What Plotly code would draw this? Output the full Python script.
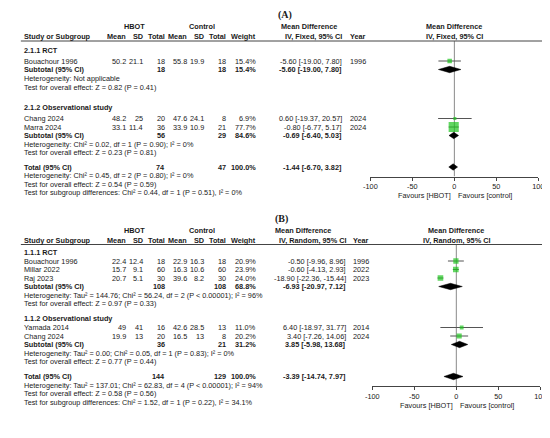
import plotly.graph_objects as go

# ---- panel A data (HBOT vs control, fixed effect) ----
groups_a = ["2.1.1 RCT", "2.1.2 Observational study"]
studies_a = ["Bouachour 1996", "Chang 2024", "Marra 2024"]
hbot_mean_a = [50.2, 48.2, 33.1]
hbot_sd_a = [21.1, 25, 11.4]
hbot_n_a = [18, 20, 36]
ctrl_mean_a = [55.8, 47.6, 33.9]
ctrl_sd_a = [19.9, 24.1, 10.9]
ctrl_n_a = [18, 8, 21]
weight_a = [15.4, 6.9, 77.7]
md_a = [-5.60, 0.60, -0.80]
lo_a = [-19.00, -19.37, -6.77]
hi_a = [7.80, 20.57, 5.17]
year_a = [1996, 2024, 2024]
sub_hbot_n_a = [18, 56]
sub_ctrl_n_a = [18, 29]
sub_weight_a = [15.4, 84.6]
sub_md_a = [-5.60, -0.69]
sub_lo_a = [-19.00, -6.40]
sub_hi_a = [7.80, 5.03]
sub_het_a = ["Heterogeneity: Not applicable",
             "Heterogeneity: Chi² = 0.02, df = 1 (P = 0.90); I² = 0%"]
sub_test_a = ["Test for overall effect: Z = 0.82 (P = 0.41)",
              "Test for overall effect: Z = 0.23 (P = 0.81)"]
tot_a = [74, 47, 100.0, -1.44, -6.70, 3.82]
tot_text_a = ["Heterogeneity: Chi² = 0.45, df = 2 (P = 0.80); I² = 0%",
              "Test for overall effect: Z = 0.54 (P = 0.59)",
              "Test for subgroup differences: Chi² = 0.44, df = 1 (P = 0.51), I² = 0%"]

# ---- panel B data (random effects) ----
groups_b = ["1.1.1 RCT", "1.1.2 Observational study"]
studies_b = ["Bouachour 1996", "Millar 2022", "Raj 2023", "Yamada 2014", "Chang 2024"]
hbot_mean_b = [22.4, 15.7, 20.7, 49, 19.9]
hbot_sd_b = [12.4, 9.1, 5.1, 41, 13]
hbot_n_b = [18, 60, 30, 16, 20]
ctrl_mean_b = [22.9, 16.3, 39.6, 42.6, 16.5]
ctrl_sd_b = [16.3, 10.6, 8.2, 28.5, 13]
ctrl_n_b = [18, 60, 30, 13, 8]
weight_b = [20.9, 23.9, 24.0, 11.0, 20.2]
md_b = [-0.50, -0.60, -18.90, 6.40, 3.40]
lo_b = [-9.96, -4.13, -22.36, -18.97, -7.26]
hi_b = [8.96, 2.93, -15.44, 31.77, 14.06]
year_b = [1996, 2022, 2023, 2014, 2024]
sub_hbot_n_b = [108, 36]
sub_ctrl_n_b = [108, 21]
sub_weight_b = [68.8, 31.2]
sub_md_b = [-6.93, 3.85]
sub_lo_b = [-20.97, -5.98]
sub_hi_b = [7.12, 13.68]
sub_het_b = ["Heterogeneity: Tau² = 144.76; Chi² = 56.24, df = 2 (P < 0.00001); I² = 96%",
             "Heterogeneity: Tau² = 0.00; Chi² = 0.05, df = 1 (P = 0.83); I² = 0%"]
sub_test_b = ["Test for overall effect: Z = 0.97 (P = 0.33)",
              "Test for overall effect: Z = 0.77 (P = 0.44)"]
tot_b = [144, 129, 100.0, -3.39, -14.74, 7.97]
tot_text_b = ["Heterogeneity: Tau² = 137.01; Chi² = 62.83, df = 4 (P < 0.00001); I² = 94%",
              "Test for overall effect: Z = 0.58 (P = 0.56)",
              "Test for subgroup differences: Chi² = 1.52, df = 1 (P = 0.22), I² = 34.1%"]

tick_vals = [-100, -50, 0, 50, 100]
tick_text = ["-100", "-50", "0", "50", "100"]

FONT = "Liberation Sans"
INK = "#1a1a1a"
FS = 7.3
GREEN = "#1fc41f"
W, H = 550, 438

fig = go.Figure()
ann = []
shapes = []


def txt(x, y, s, anchor="left", bold=False, size=FS, family=FONT, xref="x"):
    if bold:
        s = "<b>" + s + "</b>"
    ann.append(dict(x=x, y=y, xref=xref, yref="y", text=s, showarrow=False,
                    xanchor=anchor, yanchor="middle", borderpad=0,
                    font=dict(family=family, size=size, color=INK)))


def ci_str(m, l, h):
    return f"{m:.2f} [{l:.2f}, {h:.2f}]"


def panel(p, c, r, d, xa, ya):
    # column headers
    txt(c["letter"], r["letter"], "<b>(" + p["letter"] + ")</b>", anchor="center",
        size=10, family="Liberation Serif")
    txt(c["hbot"], r["top"], "HBOT", "center", True)
    txt(c["ctrl"], r["top"], "Control", "center", True)
    txt(c["mdhead"], r["top"], "Mean Difference", "left", True)
    txt(0, r["top"], "Mean Difference", "center", True, xref=xa)
    txt(c["study"], r["head"], "Study or Subgroup", "left", True)
    for key, lab in [("m1", "Mean"), ("s1", "SD"), ("n1", "Total"), ("m2", "Mean"),
                     ("s2", "SD"), ("n2", "Total"), ("w", "Weight")]:
        txt(c[key], r["head"], lab, "right", True)
    txt(c["ci"], r["head"], p["method"], "right", True)
    txt(c["yr"], r["head"], "Year", "left", True)
    txt(0, r["head"], p["method"], "center", True, xref=xa)
    shapes.append(dict(type="line", xref="x", yref="y", x0=6, x1=W, y0=r["line"], y1=r["line"],
                       line=dict(color="#444444", width=1)))

    # studies
    sy = r["studies"]
    for i, name in enumerate(d["studies"]):
        y = sy[i]
        txt(c["study"], y, name)
        txt(c["m1"], y, f"{d['hm'][i]:g}", "right")
        txt(c["s1"], y, f"{d['hs'][i]:g}", "right")
        txt(c["n1"], y, f"{d['hn'][i]}", "right")
        txt(c["m2"], y, f"{d['cm'][i]:g}", "right")
        txt(c["s2"], y, f"{d['cs'][i]:g}", "right")
        txt(c["n2"], y, f"{d['cn'][i]}", "right")
        txt(c["w"], y, f"{d['w'][i]:.1f}%", "right")
        txt(c["ci"], y, ci_str(d["md"][i], d["lo"][i], d["hi"][i]), "right")
        txt(c["yr"], y, f"{d['yr'][i]}", "left")

    # subgroups
    for g, gname in enumerate(d["groups"]):
        txt(c["study"], r["groups"][g], gname, "left", True)
        y = r["subtotal"][g]
        txt(c["study"], y, "Subtotal (95% CI)", "left", True)
        txt(c["n1"], y, f"{d['sub_hn'][g]}", "right", True)
        txt(c["n2"], y, f"{d['sub_cn'][g]}", "right", True)
        txt(c["w"], y, f"{d['sub_w'][g]:.1f}%", "right", True)
        txt(c["ci"], y, ci_str(d["sub_md"][g], d["sub_lo"][g], d["sub_hi"][g]), "right", True)
        txt(c["study"], r["het"][g], d["sub_het"][g])
        txt(c["study"], r["test"][g], d["sub_test"][g])

    # total
    t = d["tot"]
    y = r["total"]
    txt(c["study"], y, "Total (95% CI)", "left", True)
    txt(c["n1"], y, f"{t[0]}", "right", True)
    txt(c["n2"], y, f"{t[1]}", "right", True)
    txt(c["w"], y, f"{t[2]:.1f}%", "right", True)
    txt(c["ci"], y, ci_str(t[3], t[4], t[5]), "right", True)
    for k, line in enumerate(d["tot_text"]):
        txt(c["study"], r["tot_lines"][k], line)

    # forest: zero line, CIs, squares, diamonds
    shapes.append(dict(type="line", xref=xa, yref=ya, x0=0, x1=0, y0=r["line"], y1=r["axis"],
                       line=dict(color="#8a8a8a", width=1), layer="below"))
    cx, cy = [], []
    for i in range(len(d["md"])):
        cx += [d["lo"][i], d["hi"][i], None]
        cy += [sy[i], sy[i], None]
    fig.add_trace(go.Scatter(x=cx, y=cy, mode="lines", xaxis=xa, yaxis=ya,
                             line=dict(color="#555555", width=1), hoverinfo="skip"))
    fig.add_trace(go.Scatter(x=d["md"], y=sy, mode="markers", xaxis=xa, yaxis=ya,
                             marker=dict(symbol="square", color=GREEN,
                                         size=[1.15 * w ** 0.5 for w in d["w"]],
                                         line=dict(width=0))))
    dm = d["sub_md"] + [t[3]]
    dl = d["sub_lo"] + [t[4]]
    dh = d["sub_hi"] + [t[5]]
    dy = r["subtotal"] + [r["total"]]
    hh = 3.2
    px, py = [], []
    for i in range(len(dm)):
        px += [dl[i], dm[i], dh[i], dm[i], dl[i], None]
        py += [dy[i], dy[i] - hh, dy[i], dy[i] + hh, dy[i], None]
    fig.add_trace(go.Scatter(x=px, y=py, mode="lines", fill="toself", fillcolor="black",
                             xaxis=xa, yaxis=ya, line=dict(color="black", width=0.5),
                             hoverinfo="skip"))
    txt(-3, r["fav"], "Favours [HBOT]", "right", xref=xa)
    txt(3, r["fav"], "Favours [control]", "left", xref=xa)


cols_a = dict(letter=277, hbot=122, ctrl=192, mdhead=271, study=8, m1=115, s1=132.5, n1=155,
              m2=177, s2=194.5, n2=217, w=248, ci=336, yr=342)
cols_b = dict(cols_a, letter=273, mdhead=265, ci=340, yr=345)

rows_a = dict(letter=7, top=18.5, head=28.5, line=33, groups=[42.5, 99.5],
              studies=[53, 110.5, 119], subtotal=[61.5, 127.5], het=[70.5, 136],
              test=[79.5, 144.5], total=159, tot_lines=[167.5, 176, 184.5], axis=168.5, fav=187)
rows_b = dict(letter=211, top=222, head=232, line=236.5, groups=[244.5, 310.5],
              studies=[253, 261.5, 270, 319.5, 328], subtotal=[278.5, 336.5], het=[287, 345],
              test=[295.5, 353.5], total=368.5, tot_lines=[377, 385.5, 394], axis=378, fav=397.5)

data_a = dict(groups=groups_a, studies=studies_a, hm=hbot_mean_a, hs=hbot_sd_a, hn=hbot_n_a,
              cm=ctrl_mean_a, cs=ctrl_sd_a, cn=ctrl_n_a, w=weight_a, md=md_a, lo=lo_a,
              hi=hi_a, yr=year_a, sub_hn=sub_hbot_n_a, sub_cn=sub_ctrl_n_a, sub_w=sub_weight_a,
              sub_md=sub_md_a, sub_lo=sub_lo_a, sub_hi=sub_hi_a, sub_het=sub_het_a,
              sub_test=sub_test_a, tot=tot_a, tot_text=tot_text_a)
data_b = dict(groups=groups_b, studies=studies_b, hm=hbot_mean_b, hs=hbot_sd_b, hn=hbot_n_b,
              cm=ctrl_mean_b, cs=ctrl_sd_b, cn=ctrl_n_b, w=weight_b, md=md_b, lo=lo_b,
              hi=hi_b, yr=year_b, sub_hn=sub_hbot_n_b, sub_cn=sub_ctrl_n_b, sub_w=sub_weight_b,
              sub_md=sub_md_b, sub_lo=sub_lo_b, sub_hi=sub_hi_b, sub_het=sub_het_b,
              sub_test=sub_test_b, tot=tot_b, tot_text=tot_text_b)

panel(dict(letter="A", method="IV, Fixed, 95% CI"), cols_a, rows_a, data_a, "x2", "y2")
panel(dict(letter="B", method="IV, Random, 95% CI"), cols_b, rows_b, data_b, "x3", "y3")

forest_x = dict(range=[-100, 100], tickvals=tick_vals, ticktext=tick_text, showline=True,
                linecolor="#444444", linewidth=1, ticks="outside", ticklen=3, tickwidth=1,
                tickcolor="#444444", showgrid=False, zeroline=False, fixedrange=True,
                tickfont=dict(family=FONT, size=FS, color=INK))
hidden = dict(visible=False, fixedrange=True, showgrid=False, zeroline=False)

fig.update_layout(
    width=W, height=H, autosize=False, showlegend=False,
    margin=dict(l=0, r=0, t=0, b=0),
    paper_bgcolor="white", plot_bgcolor="rgba(0,0,0,0)",
    xaxis=dict(hidden, range=[0, W], domain=[0, 1]),
    yaxis=dict(hidden, range=[H, 0], domain=[0, 1]),
    xaxis2=dict(forest_x, domain=[364 / W, 536 / W], anchor="y2"),
    yaxis2=dict(hidden, domain=[1 - rows_a["axis"] / H, 1 - rows_a["line"] / H],
                range=[rows_a["axis"], rows_a["line"]], anchor="x2"),
    xaxis3=dict(forest_x, domain=[366 / W, 538 / W], anchor="y3"),
    yaxis3=dict(hidden, domain=[1 - rows_b["axis"] / H, 1 - rows_b["line"] / H],
                range=[rows_b["axis"], rows_b["line"]], anchor="x3"),
    annotations=ann, shapes=shapes,
)

fig.write_html("out.html")
